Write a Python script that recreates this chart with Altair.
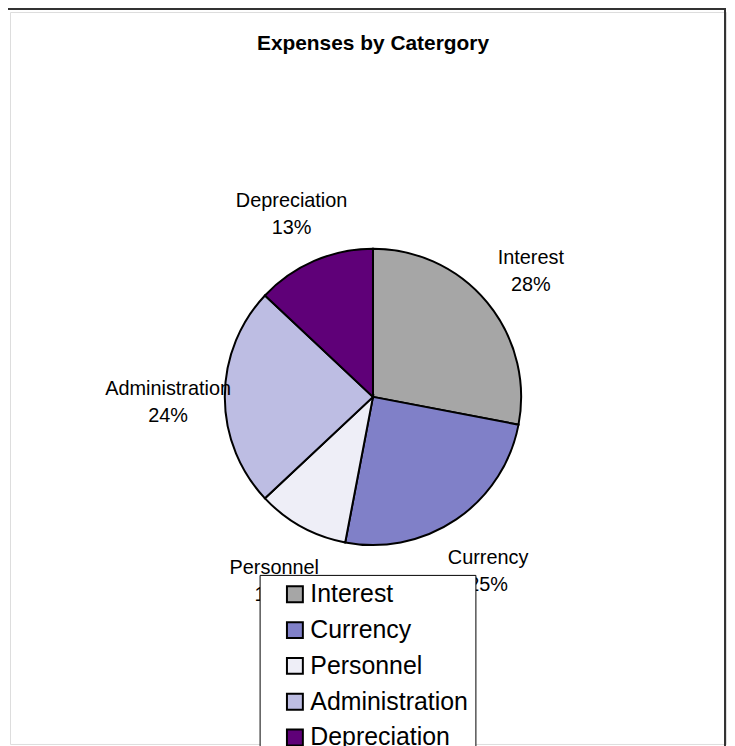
import altair as alt
import pandas as pd

categories = ["Interest", "Currency", "Personnel", "Administration", "Depreciation"]
values = [28, 25, 10, 24, 13]
colors = ["#A6A6A6", "#8080C8", "#EEEEF7", "#BDBDE3", "#5F0078"]

df = pd.DataFrame({"category": categories, "value": values, "idx": list(range(len(categories)))})

FONT = "Liberation Sans"
CX, CY = 365, 387

base = alt.Chart(df).transform_calculate(
    label="datum.category + '\\n' + datum.value + '%'"
)

color = alt.Color(
    "category:N",
    sort=None,
    scale=alt.Scale(domain=categories, range=colors),
    legend=alt.Legend(
        title=None,
        orient="none",
        legendX=251,
        legendY=566,
        fillColor="white",
        strokeColor="black",
        padding=7,
        symbolType="square",
        symbolSize=256,
        symbolStrokeColor="black",
        symbolStrokeWidth=2,
        symbolOffset=16,
        labelOffset=3,
        labelFont=FONT,
        labelFontSize=25,
        labelColor="black",
        rowPadding=10,
        labelExpr="datum.label + '\\u00a0\\u00a0\\u00a0\\u00a0\\u00a0'",
    ),
)

frame = alt.Chart(pd.DataFrame({"k": [0]})).mark_rect(
    fillOpacity=0, stroke="#333333", strokeWidth=2
).encode(
    x=alt.value(-3), x2=alt.value(719), y=alt.value(-3), y2=alt.value(800)
)

pie = base.mark_arc(outerRadius=149, stroke="black", strokeWidth=2, x=CX, y=CY).encode(
    theta=alt.Theta("value:Q", stack=True),
    color=color,
    order=alt.Order("idx:Q"),
)

labels = base.mark_text(
    radius=206, x=CX, y=CY, dy=-8, font=FONT, fontSize=20, color="black",
    lineBreak="\n", lineHeight=27, align="center", baseline="middle",
).encode(
    theta=alt.Theta("value:Q", stack=True),
    order=alt.Order("idx:Q"),
    text="label:N",
)

chart = alt.layer(frame, pie, labels).properties(
    width=720,
    height=736,
    padding={"left": 2, "top": 2, "right": 1, "bottom": 0},
    autosize=alt.AutoSizeParams(type="none"),
    title=alt.TitleParams(
        "Expenses by Catergory", font=FONT, fontSize=21, fontWeight="bold",
        color="black", anchor="middle", baseline="alphabetic", offset=-63, dx=5,
    ),
).configure_view(stroke=None).configure(background="white")

chart.save("out.html", embed_options={"renderer": "svg", "actions": False})
